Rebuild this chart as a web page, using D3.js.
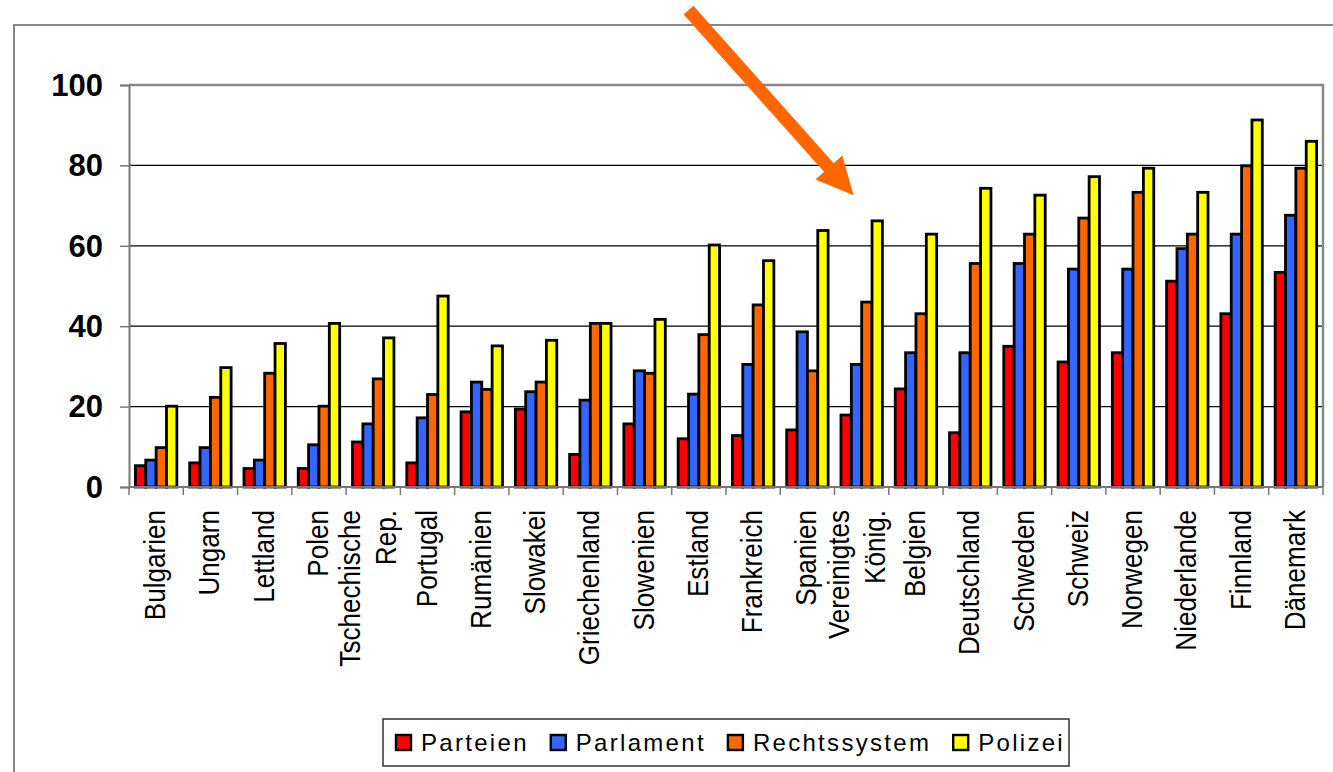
<!DOCTYPE html>
<html><head><meta charset="utf-8">
<script src="https://cdn.jsdelivr.net/npm/d3@7"></script>
<style>
html,body{margin:0;padding:0;background:#fff;}
svg{display:block;font-family:"Liberation Sans",Arial,sans-serif;}
</style></head>
<body>
<svg id="chart" width="1333" height="772"></svg>
<script>
const categories = [["Bulgarien"],["Ungarn"],["Lettland"],["Polen"],["Tschechische","Rep."],["Portugal"],["Rumänien"],["Slowakei"],["Griechenland"],["Slowenien"],["Estland"],["Frankreich"],["Spanien"],["Vereinigtes","König."],["Belgien"],["Deutschland"],["Schweden"],["Schweiz"],["Norwegen"],["Niederlande"],["Finnland"],["Dänemark"]];
const seriesNames = ["Parteien","Parlament","Rechtssystem","Polizei"];
const seriesColors = ["#FF0000","#3366FF","#FF6600","#FFFF00"];
const parteien     = [5.3,6.0,4.6,4.6,11.2,6.0,18.7,19.4,8.1,15.7,12.0,12.8,14.2,17.9,24.4,13.5,35.0,31.1,33.4,51.2,43.1,53.4];
const parlament    = [6.7,9.8,6.7,10.5,15.7,17.2,26.1,23.7,21.6,28.9,23.1,30.5,38.6,30.5,33.4,33.4,55.6,54.2,54.2,59.3,62.9,67.6];
const rechtssystem = [9.8,22.3,28.3,20.1,26.9,23.0,24.3,26.1,40.7,28.3,37.9,45.3,28.9,46.0,43.1,55.6,62.9,66.9,73.3,62.9,79.9,79.3];
const polizei      = [20.1,29.7,35.7,40.7,37.1,47.5,35.1,36.5,40.7,41.7,60.2,56.3,63.8,66.2,62.9,74.3,72.6,77.2,79.3,73.3,91.3,86.0];
const yTicks = [0,20,40,60,80,100];

(function () {
const seriesValues = [parteien, parlament, rechtssystem, polizei];
const catKeys = categories.map(c => c.join(" "));

const svg = d3.select("#chart");
const pLeft = 129, pRight = 1323, pTop = 85, pBottom = 487;

const x = d3.scaleBand().domain(catKeys).range([pLeft, pRight]).padding(0);
const xs = d3.scaleBand().domain(seriesNames).range([0, x.bandwidth()]).paddingInner(0).paddingOuter(0.62);
const y = d3.scaleLinear().domain([0, 100]).range([pBottom, pTop]);

// outer frame
svg.append("path").attr("d", "M14,772 L14,25 L1333,25").attr("fill","none").attr("stroke","#888").attr("stroke-width",2);

// gridlines
svg.append("g").selectAll("line").data(yTicks.filter(t => t > 0 && t < 100)).join("line")
  .attr("x1", pLeft).attr("x2", pRight).attr("y1", d => y(d)).attr("y2", d => y(d))
  .attr("stroke", "#000").attr("stroke-width", 1.2);

// plot border top/right
svg.append("path").attr("d", `M${pLeft},${y(100)} L${pRight},${y(100)} L${pRight},${y(0)}`)
  .attr("fill","none").attr("stroke","#888").attr("stroke-width",2.5);

// y axis
const yAxis = d3.axisLeft(y).tickValues(yTicks).tickSize(9).tickPadding(17).tickFormat(d3.format("d"));
const gy = svg.append("g").attr("transform", `translate(${pLeft},0)`).call(yAxis);
gy.select(".domain").attr("stroke","#777").attr("stroke-width",2);
gy.selectAll(".tick line").attr("stroke","#777").attr("stroke-width",1.5);
gy.selectAll(".tick text").attr("font-family","'Liberation Sans',Arial,sans-serif")
  .attr("font-size",31).attr("font-weight","bold").attr("fill","#000").attr("dy","0.33em");

// bars
const groups = svg.append("g").selectAll("g").data(catKeys).join("g")
  .attr("transform", d => `translate(${x(d)},0)`);
groups.selectAll("rect").data((d, i) => seriesNames.map((s, j) => ({s, v: seriesValues[j][i], c: seriesColors[j]}))).join("rect")
  .attr("x", d => xs(d.s)).attr("width", xs.bandwidth())
  .attr("y", d => y(d.v)).attr("height", d => y(0) - y(d.v))
  .attr("fill", d => d.c).attr("stroke", "#000").attr("stroke-width", 2.8);

// x axis line + ticks at boundaries
svg.append("line").attr("x1", pLeft).attr("x2", pRight).attr("y1", y(0)).attr("y2", y(0))
  .attr("stroke","#777").attr("stroke-width",2);
const bounds = catKeys.map(k => x(k)).concat([pRight]);
svg.append("g").selectAll("line").data(bounds).join("line")
  .attr("x1", d => d).attr("x2", d => d).attr("y1", y(0)).attr("y2", y(0) + 8)
  .attr("stroke","#777").attr("stroke-width",1.5);

// category labels (rotated)
const lab = svg.append("g");
categories.forEach((lines, i) => {
  const cx = x(catKeys[i]) + x.bandwidth() / 2;
  const n = lines.length;
  lines.forEach((t, k) => {
    const bx = n === 1 ? cx + 9 : cx + 5 + (k - (n - 1) / 2) * 36;
    lab.append("text")
      .attr("transform", `translate(${bx},510) rotate(-90) scale(0.87,1)`)
      .attr("text-anchor","end").attr("font-size",30).attr("fill","#000").text(t);
  });
});

// legend
const lg = svg.append("g");
const legBox = lg.append("rect").attr("x",383).attr("y",719).attr("height",47)
  .attr("fill","#fff").attr("stroke","#333").attr("stroke-width",1.5);
let lx = 396;
seriesNames.forEach((s, j) => {
  lg.append("rect").attr("x", lx).attr("y", 735).attr("width", 15).attr("height", 15)
    .attr("fill", seriesColors[j]).attr("stroke","#000").attr("stroke-width",2.4);
  const t = lg.append("text").attr("x", lx + 25).attr("y", 751).attr("font-size", 24)
    .attr("letter-spacing","2.3px").attr("fill","#000").text(s);
  const w = t.node().getComputedTextLength();
  lx = lx + 25 + w + 22;
});
legBox.attr("width", lx - 22 - 383 + 4);

// arrow annotation pointing at "Vereinigtes König."
const tipX = x("Vereinigtes König.") + x.bandwidth() * 0.35;
const tipY = y(72.6);
const tailX = tipX - 165, tailY = tipY - 185;
const dx = tipX - tailX, dy = tipY - tailY, L = Math.hypot(dx, dy);
const ux = dx / L, uy = dy / L, px = -uy, py = ux;
const sw = 6.5, hl = 37, hw = 18;
const bxp = tipX - ux * hl, byp = tipY - uy * hl;
const pts = [
  [tailX + px * sw, tailY + py * sw],
  [bxp + px * sw, byp + py * sw],
  [bxp + px * hw, byp + py * hw],
  [tipX, tipY],
  [bxp - px * hw, byp - py * hw],
  [bxp - px * sw, byp - py * sw],
  [tailX - px * sw, tailY - py * sw]
];
svg.append("polygon").attr("points", pts.map(p => p.join(",")).join(" ")).attr("fill","#FF6600");
})();
</script>
</body></html>
